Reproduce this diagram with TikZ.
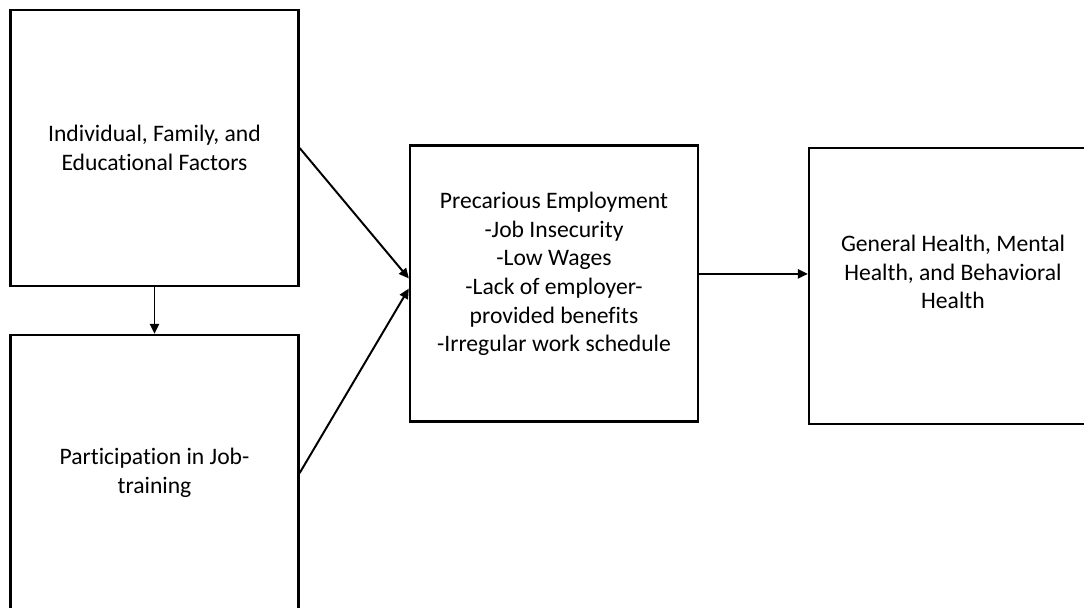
\documentclass[tikz,border=0pt]{standalone}
\usepackage{fontspec}
\setmainfont[Ligatures=NoCommon]{Carlito}
\usetikzlibrary{arrows.meta}

\tikzset{
	box/.style={draw, line width=1.6pt, minimum width=7.2cm, minimum height=6.9cm, inner sep=0pt},
	txt/.style={align=center, font=\fontsize{16.8}{20.4}\selectfont},
	arr/.style={line width=1.4pt, -{Triangle[length=0.25cm,width=0.23cm]}}
}

\begin{document}
\begin{tikzpicture}[x=0.025cm,y=-0.025cm]
	\useasboundingbox (0,0) rectangle (1084,607);
	\clip (0,0) rectangle (1084,607);
	
	% Define the boxes
	\node[box,txt] (ind) at (154.5,148) {Individual, Family, and\\Educational Factors};
	\node[box,txt] (part) at (154.5,473) {Participation in Job-\\training};
	\node[box] (emp) at (554,283.5) {};
	\node[txt] (empText) at ([yshift=0.24cm]emp.center) {Precarious Employment\\-Job Insecurity\\-Low Wages\\-Lack of employer-\\provided benefits\\-Irregular work schedule};
	\node[box] (out) at (953,286) {};
	\node[txt] (outText) at ([yshift=0.35cm]out.center) {General Health, Mental\\Health, and Behavioral\\Health};
	
	% Draw the arrows
	\draw[arr] (ind.south) -- (part.north);
	\draw[arr] (ind.east) -- (emp.178);
	\draw[arr] (part.east) -- (emp.182);
	\draw[arr] (emp.east |- empText) -- (out.west |- empText);
\end{tikzpicture}
\end{document}
